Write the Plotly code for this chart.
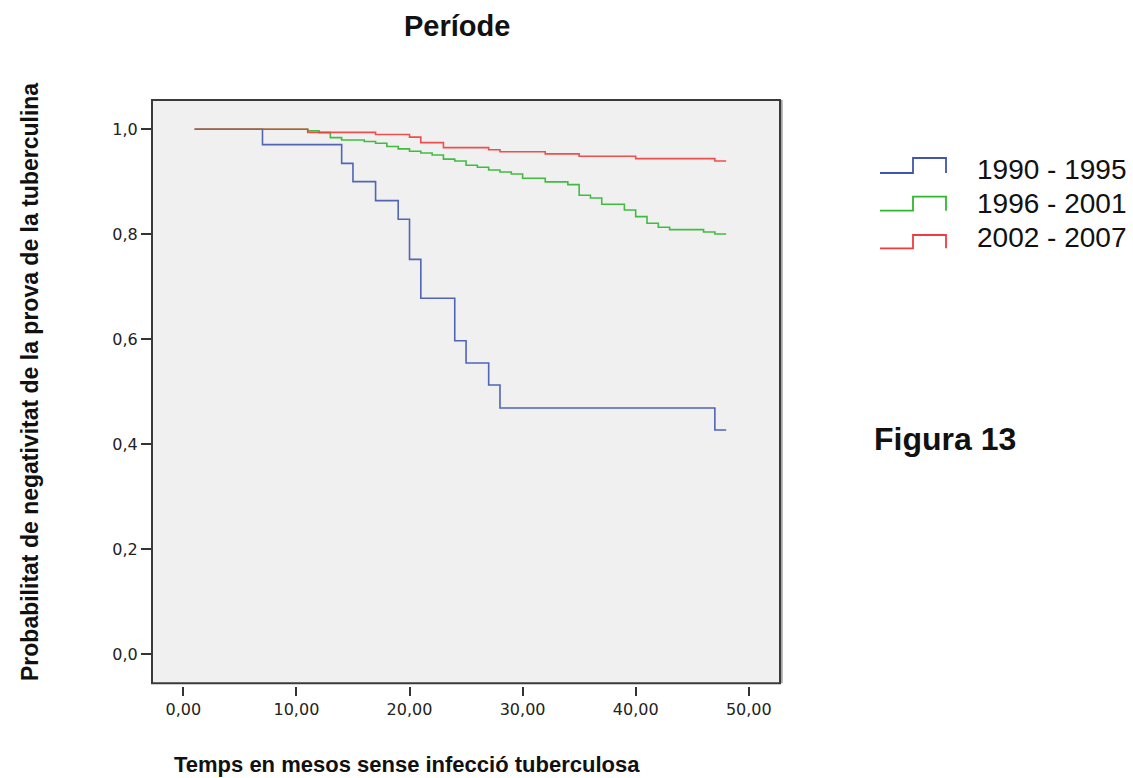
import plotly.graph_objects as go

# ---- data ----
series_names = ["1990 - 1995", "1996 - 2001", "2002 - 2007"]

blue_x = [1, 7, 14, 15, 17, 19, 20, 21, 24, 25, 27, 28, 47, 48]
blue_y = [1.0, 0.9707, 0.935, 0.9002, 0.864, 0.8284, 0.752, 0.678, 0.597, 0.5546, 0.5127, 0.4688, 0.4269, 0.4269]

green_x = [1, 11, 12, 13, 14, 16, 17, 18, 19, 20, 21, 22, 23, 24, 25, 26, 27, 28, 29, 30,
           32, 34, 35, 36, 37, 39, 40, 41, 42, 43, 46, 47, 48]
green_y = [1.0, 0.997, 0.9935, 0.984, 0.9796, 0.9765, 0.9733, 0.967, 0.9625, 0.958, 0.9548,
           0.951, 0.943, 0.9396, 0.9313, 0.9275, 0.9224, 0.9186, 0.9148, 0.9066, 0.8996,
           0.8945, 0.8742, 0.869, 0.857, 0.8462, 0.8335, 0.8208, 0.8132, 0.8087, 0.8043,
           0.8005, 0.8005]

red_x = [1, 11, 17, 20, 21, 23, 27, 28, 32, 35, 40, 47, 48]
red_y = [1.0, 0.994, 0.990, 0.985, 0.9745, 0.965, 0.961, 0.957, 0.953, 0.9485, 0.944, 0.9396, 0.9396]

x_tickvals = [0, 10, 20, 30, 40, 50]
x_ticktext = ["0,00", "10,00", "20,00", "30,00", "40,00", "50,00"]
y_tickvals = [0.0, 0.2, 0.4, 0.6, 0.8, 1.0]
y_ticktext = ["0,0", "0,2", "0,4", "0,6", "0,8", "1,0"]

colors = ["#3F56B0", "#2EB82E", "#F03C3C"]

# ---- layout geometry (pixels) ----
FW, FH = 1133, 778
ML, MR, MT, MB = 152, 353, 100, 92
PW = FW - ML - MR
PH = FH - MT - MB


def px(X):
    return (X - ML) / PW


def py(Y):
    return (FH - MB - Y) / PH


fig = go.Figure()
for xs, ys, name, c in [(blue_x, blue_y, series_names[0], colors[0]),
                        (green_x, green_y, series_names[1], colors[1]),
                        (red_x, red_y, series_names[2], colors[2])]:
    fig.add_trace(go.Scatter(x=xs, y=ys, mode="lines", name=name,
                             line=dict(color=c, width=1.6, shape="hv"),
                             opacity=0.9, showlegend=False))

tickfont = dict(family="DejaVu Sans", size=16, color="#222222")

fig.update_layout(
    width=FW, height=FH,
    margin=dict(l=ML, r=MR, t=MT, b=MB, pad=0),
    paper_bgcolor="white",
    plot_bgcolor="#F0F0F0",
    showlegend=False,
    xaxis=dict(range=[-2.77, 52.76], domain=[0, 1], anchor="free", position=0,
               tickvals=x_tickvals, ticktext=x_ticktext, ticks="outside",
               ticklen=9, tickwidth=2, tickcolor="#333333", showline=False,
               showgrid=False, zeroline=False, tickfont=tickfont),
    yaxis=dict(range=[-0.0558, 1.0557], domain=[0.0046, 1],
               tickvals=y_tickvals, ticktext=y_ticktext, ticks="outside",
               ticklen=10, tickwidth=2, tickcolor="#333333", showline=False,
               showgrid=False, zeroline=False, tickfont=tickfont),
)

# plot frame
fig.add_shape(type="rect", xref="x domain", yref="y domain", x0=0, x1=1, y0=0, y1=1,
              line=dict(color="#3A3A3A", width=2), layer="above")
fig.add_shape(type="line", xref="x domain", yref="y domain", x0=1.003, x1=1.003, y0=0, y1=1,
              line=dict(color="#9A9A9A", width=1.5), layer="above")

# legend (custom step glyphs)
glyph_y = [(173, 158), (210.7, 196.7), (248.3, 235)]
text_y = [169.5, 203.3, 237.0]
for i, name in enumerate(series_names):
    yb, yt = glyph_y[i]
    path = (f"M {px(880)},{py(yb)} L {px(913)},{py(yb)} L {px(913)},{py(yt)} "
            f"L {px(946)},{py(yt)} L {px(946)},{py(yb)}")
    fig.add_shape(type="path", xref="paper", yref="paper", path=path,
                  line=dict(color=colors[i], width=1.8))
    fig.add_annotation(x=px(975), y=py(text_y[i]), xref="paper", yref="paper",
                       text=name, showarrow=False, xanchor="left", yanchor="middle",
                       font=dict(family="Liberation Sans", size=28, color="#111111"))

bold = "Liberation Sans"
fig.add_annotation(x=px(457), y=py(26), xref="paper", yref="paper", text="<b>Període</b>",
                   showarrow=False, xanchor="center", yanchor="middle",
                   font=dict(family=bold, size=29, color="#111111"))
fig.add_annotation(x=px(407), y=py(764), xref="paper", yref="paper",
                   text="<b>Temps en mesos sense infecció tuberculosa</b>",
                   showarrow=False, xanchor="center", yanchor="middle",
                   font=dict(family=bold, size=22, color="#111111"))
fig.add_annotation(x=px(30), y=py(382), xref="paper", yref="paper",
                   text="<b>Probabilitat de negativitat de la prova de la tuberculina</b>",
                   showarrow=False, textangle=-90, xanchor="center", yanchor="middle",
                   font=dict(family=bold, size=23, color="#111111"))
fig.add_annotation(x=px(872), y=py(439), xref="paper", yref="paper", text="<b>Figura 13</b>",
                   showarrow=False, xanchor="left", yanchor="middle",
                   font=dict(family=bold, size=32, color="#111111"))

fig.write_html("out.html")
